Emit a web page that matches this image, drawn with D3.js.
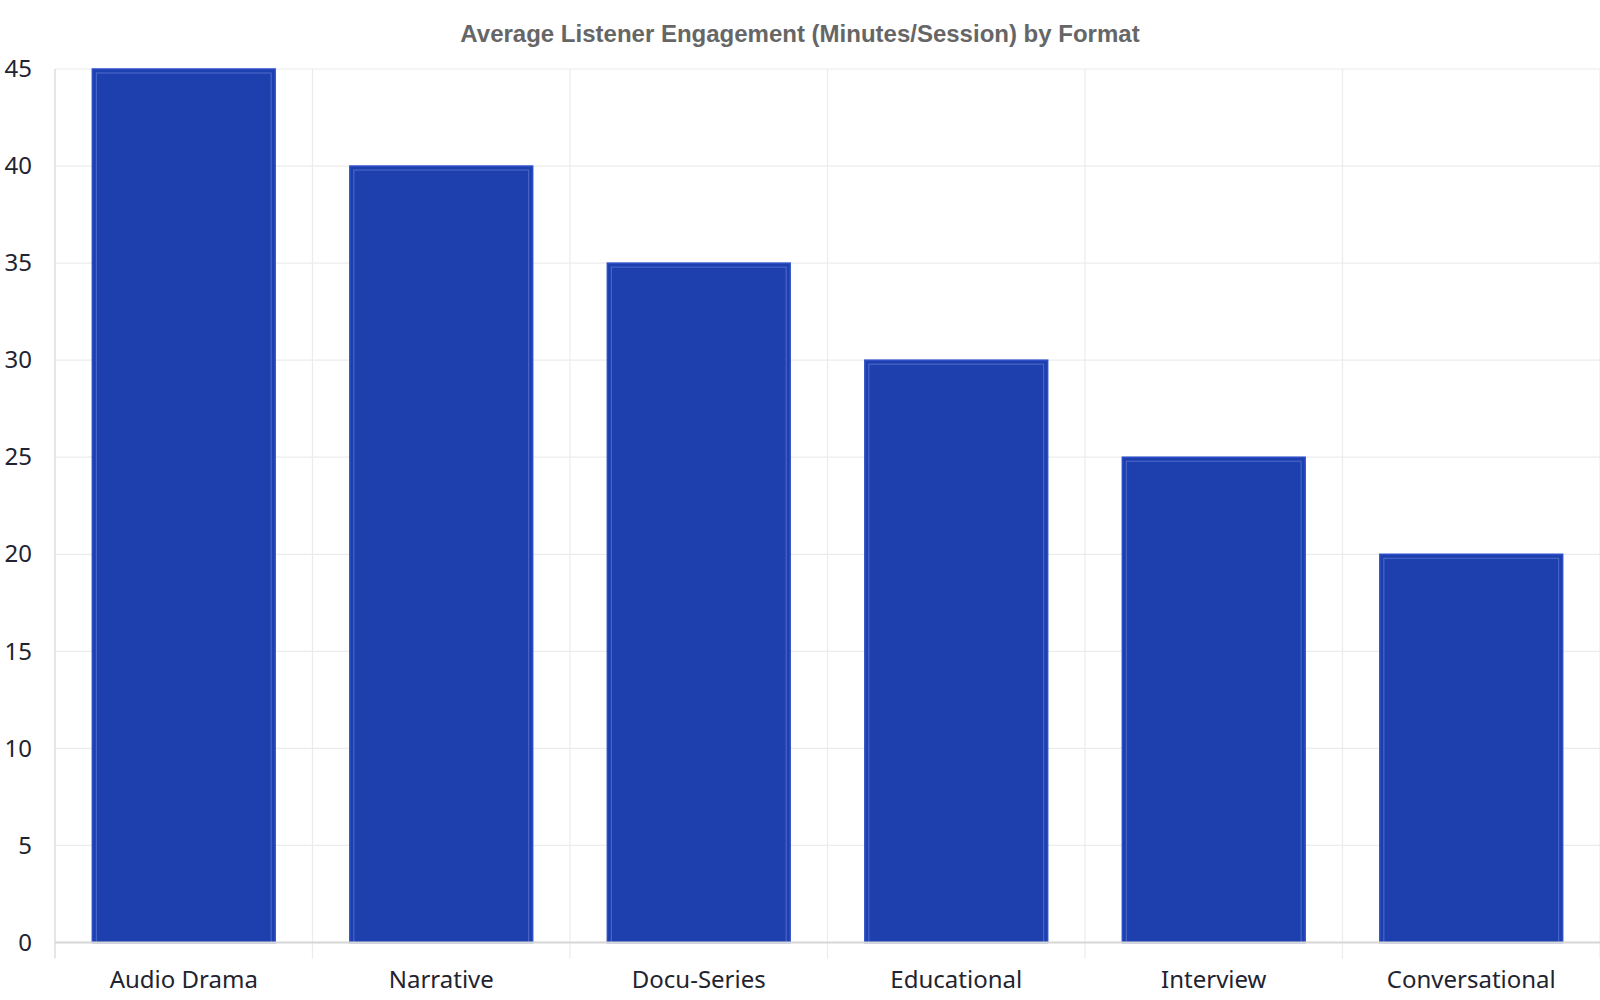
<!DOCTYPE html>
<html>
<head>
<meta charset="utf-8">
<script src="https://cdn.jsdelivr.net/npm/d3@7"></script>
<style>
  body { margin: 0; background: #fff; }
</style>
</head>
<body>
<div id="chart"></div>
<script>
const categories = ["Audio Drama", "Narrative", "Docu-Series", "Educational", "Interview", "Conversational"];
const minutes = [45, 40, 35, 30, 25, 20];
const yTicks = [0, 5, 10, 15, 20, 25, 30, 35, 40, 45];
const title = "Average Listener Engagement (Minutes/Session) by Format";

const width = 1600;
const height = 1000;
const margin = { top: 69, left: 55, bottom: 57.5, right: 0 };
const iwidth = width - margin.left - margin.right;
const iheight = height - margin.top - margin.bottom;

const svg = d3.select("#chart").append("svg")
  .attr("width", width)
  .attr("height", height);

svg.append("text")
  .attr("x", 800)
  .attr("y", 42)
  .attr("text-anchor", "middle")
  .style("font-family", "'Liberation Sans', Arial, sans-serif")
  .style("font-weight", "bold")
  .style("font-size", "24px")
  .style("fill", "#666")
  .text(title);

const g = svg.append("g").attr("transform", `translate(${margin.left},${margin.top})`);

const y = d3.scaleLinear().domain([0, 45]).range([iheight, 0]);
const x = d3.scaleBand().domain(categories).range([0, iwidth]).paddingInner(0.29).paddingOuter(0.145);

// horizontal grid
g.append("g").selectAll("line").data(yTicks).enter().append("line")
  .attr("x1", 0).attr("x2", iwidth)
  .attr("y1", d => y(d)).attr("y2", d => y(d))
  .attr("stroke", "#ececec").attr("stroke-width", 1.2);

// vertical grid at band boundaries, extending past the axis as ticks
const bounds = d3.range(categories.length + 1).map(i => i * iwidth / categories.length);
g.append("g").selectAll("line").data(bounds).enter().append("line")
  .attr("x1", d => d).attr("x2", d => d)
  .attr("y1", 0).attr("y2", iheight + 16)
  .attr("stroke", (d, i) => i === 0 ? "#d6d6d6" : "#ececec").attr("stroke-width", 1.2);

// bars
const bars = g.append("g").selectAll("g").data(categories).enter().append("g");
bars.append("rect")
  .attr("x", d => x(d))
  .attr("y", (d, i) => y(minutes[i]))
  .attr("width", x.bandwidth())
  .attr("height", (d, i) => iheight - y(minutes[i]))
  .style("fill", "#1e40af")
  .style("stroke", "#2b4ec8")
  .style("stroke-width", 1.5);
bars.append("rect")
  .attr("x", d => x(d) + 4)
  .attr("y", (d, i) => y(minutes[i]) + 4)
  .attr("width", x.bandwidth() - 8)
  .attr("height", (d, i) => iheight - y(minutes[i]) - 4)
  .style("fill", "none")
  .style("stroke", "rgba(140,160,235,0.45)")
  .style("stroke-width", 1);

// x axis line
g.append("line")
  .attr("x1", 0).attr("x2", iwidth)
  .attr("y1", iheight).attr("y2", iheight)
  .attr("stroke", "#d6d6d6").attr("stroke-width", 2);

// y labels
const yAxis = g.append("g")
  .call(d3.axisLeft(y).tickValues(yTicks).tickSize(0).tickPadding(23));
yAxis.select(".domain").remove();
yAxis.selectAll("text")
  .style("font-family", "'Noto Sans', sans-serif")
  .style("font-size", "24px")
  .style("fill", "#1f2430");

// x labels
const xAxis = g.append("g")
  .attr("transform", `translate(0,${iheight})`)
  .call(d3.axisBottom(x).tickSize(0).tickPadding(28));
xAxis.select(".domain").remove();
xAxis.selectAll("text")
  .style("font-family", "'Noto Sans', sans-serif")
  .style("font-size", "24px")
  .style("fill", "#1f2430");
</script>
</body>
</html>
